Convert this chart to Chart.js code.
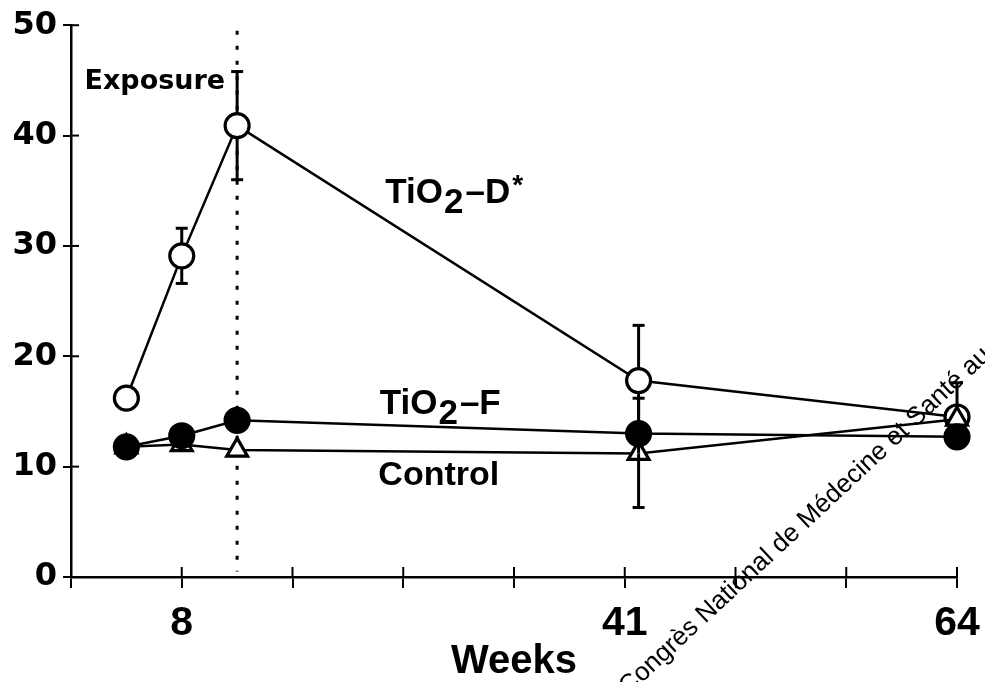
<!DOCTYPE html>
<html>
<head>
<meta charset="utf-8">
<script src="https://cdn.jsdelivr.net/npm/chart.js@4.4.1/dist/chart.umd.min.js"></script>
<style>
html,body{margin:0;background:#fff}
#wrap{width:985px;height:682px}
</style>
</head>
<body>
<div id="wrap"><canvas id="c"></canvas></div>
<script>
// weeks of sampling
const weeks = [4, 8, 12, 41, 64]
const tio2D = [16.2, 29.1, 40.9, 17.8, 14.5]
const tio2F = [11.8, 12.8, 14.2, 13.0, 12.7]
const control = [11.8, 12.0, 11.5, 11.2, 14.3]

// error bar ends (null = none visible)
const tio2DHigh = [null, 31.6, 45.8, 22.8, 17.6]
const tio2DLow = [null, 26.6, 36.0, 12.8, null]
const controlHigh = [null, null, null, 16.2, null]
const controlLow = [null, null, null, 6.3, null]

const xTickLabels = {8: "8", 40: "41", 64: "64"}
const exposureWeek = 12

const pts = vals => weeks.map((w, i) => ({x: w, y: vals[i]}))

function errBars(ctx, x, y, mid, hi, lo){
    ctx.save()
    ctx.strokeStyle = "#000"
    ctx.lineWidth = 3
    weeks.forEach((w, i)=>{
        const px = x.getPixelForValue(w)
        const pm = y.getPixelForValue(mid[i])
        ;[hi[i], lo[i]].forEach(v=>{
            if(v == null) return
            const py = y.getPixelForValue(v)
            ctx.beginPath()
            ctx.moveTo(px, pm)
            ctx.lineTo(px, py)
            ctx.stroke()
            ctx.beginPath()
            ctx.moveTo(px - 6, py)
            ctx.lineTo(px + 6, py)
            ctx.stroke()
        })
    })
    ctx.restore()
}

// TiO2 label with lowered 2 and optional star
function tioLabel(ctx, x0, base, suffix, star){
    ctx.font = "bold 35px 'Liberation Sans'"
    ctx.textBaseline = "alphabetic"
    ctx.textAlign = "left"
    let cx = x0
    ctx.fillText("TiO", cx, base); cx += ctx.measureText("TiO").width
    ctx.fillText("2", cx + 1, base + 10); cx += ctx.measureText("2").width + 3
    ctx.fillText("\u2013" + suffix, cx, base); cx += ctx.measureText("\u2013" + suffix).width
    if(star){
        ctx.font = "bold 28px 'Liberation Sans'"
        ctx.fillText("*", cx + 2, base - 9)
    }
}

const annot = {
    id: "annot",
    beforeDatasetsDraw(chart){
        const {ctx, scales: {x, y}} = chart
        // exposure dotted line
        ctx.save()
        ctx.strokeStyle = "#000"
        ctx.lineWidth = 3
        ctx.setLineDash([4, 11])
        const ex = x.getPixelForValue(exposureWeek)
        ctx.beginPath()
        ctx.moveTo(ex, y.getPixelForValue(49.5))
        ctx.lineTo(ex, y.getPixelForValue(0.5))
        ctx.stroke()
        ctx.restore()
        errBars(ctx, x, y, tio2D, tio2DHigh, tio2DLow)
    },
    afterDatasetsDraw(chart){
        const {ctx, scales: {x, y}} = chart
        errBars(ctx, x, y, control, controlHigh, controlLow)
    },
    afterDraw(chart){
        const {ctx, scales: {x, y}} = chart
        ctx.save()
        ctx.strokeStyle = "#000"
        ctx.lineWidth = 2
        // inner halves of the crossing ticks
        y.ticks.forEach(t=>{
            const py = y.getPixelForValue(t.value)
            ctx.beginPath(); ctx.moveTo(x.left, py); ctx.lineTo(x.left + 8, py); ctx.stroke()
        })
        x.ticks.forEach(t=>{
            const px = x.getPixelForValue(t.value)
            ctx.beginPath(); ctx.moveTo(px, y.bottom); ctx.lineTo(px, y.bottom - 10); ctx.stroke()
        })

        ctx.fillStyle = "#000"
        ctx.font = "bold 27px 'DejaVu Sans'"
        ctx.textAlign = "right"
        ctx.textBaseline = "alphabetic"
        ctx.fillText("Exposure", x.getPixelForValue(exposureWeek) - 12, y.getPixelForValue(44.2))

        tioLabel(ctx, x.getPixelForValue(22.7), y.getPixelForValue(33.9), "D", true)
        tioLabel(ctx, x.getPixelForValue(22.3), y.getPixelForValue(14.8), "F", false)
        ctx.font = "bold 34px 'Liberation Sans'"
        ctx.textAlign = "left"
        ctx.fillText("Control", x.getPixelForValue(22.2), y.getPixelForValue(8.3))

        // scan watermark
        ctx.translate(628, 696)
        ctx.rotate(-43 * Math.PI / 180)
        ctx.font = "26px 'Liberation Sans'"
        ctx.fillText("Congrès National de Médecine et Santé au Travail", 0, 0)
        ctx.restore()
    }
}

const ds = (label, vals, style, fill) => ({
    label,
    data: pts(vals),
    borderColor: "#000",
    borderWidth: 2.5,
    pointStyle: style,
    pointRadius: 12,
    pointBorderWidth: 3.2,
    pointBorderColor: "#000",
    pointBackgroundColor: fill,
    clip: false,
    tension: 0
})

new Chart(document.querySelector("#c"), {
    type: "line",
    data: {
        datasets: [
            ds("TiO2-F", tio2F, "circle", "#000"),
            ds("Control", control, "triangle", "#fff"),
            ds("TiO2-D*", tio2D, "circle", "#fff")
        ]
    },
    options: {
        responsive: true,
        maintainAspectRatio: false,
        animation: false,
        layout: {padding: {top: 24, right: 28, left: 0, bottom: 0}},
        plugins: {legend: {display: false}, tooltip: {enabled: false}},
        scales: {
            x: {
                type: "linear",
                min: 0,
                max: 64,
                afterFit: s => { s.height = 105; s.paddingLeft = 0; s.paddingRight = 0 },
                afterBuildTicks: s => { s.ticks = [0, 8, 16, 24, 32, 40, 48, 56, 64].map(v=>({value: v})) },
                border: {display: true, color: "#000", width: 2.5},
                grid: {drawOnChartArea: false, drawTicks: true, tickLength: 11, color: "#000", lineWidth: 2},
                ticks: {
                    color: "#000",
                    padding: 15,
                    maxRotation: 0,
                    autoSkip: false,
                    font: {family: "'Liberation Sans'", weight: "bold", size: 41, lineHeight: 1},
                    callback: v => xTickLabels[v] ?? ""
                },
                title: {
                    display: true,
                    text: "Weeks",
                    color: "#000",
                    padding: {top: 0, bottom: 0},
                    font: {family: "'Liberation Sans'", weight: "bold", size: 40, lineHeight: 1}
                }
            },
            y: {
                min: 0,
                max: 50,
                afterFit: s => { s.width = 71 },
                border: {display: true, color: "#000", width: 2.5},
                grid: {drawOnChartArea: false, drawTicks: true, tickLength: 8, color: "#000", lineWidth: 2},
                ticks: {
                    stepSize: 10,
                    color: "#000",
                    padding: 6,
                    font: {family: "DejaVu Sans", weight: "bold", size: 32}
                }
            }
        }
    },
    plugins: [annot]
})
</script>
</body>
</html>
